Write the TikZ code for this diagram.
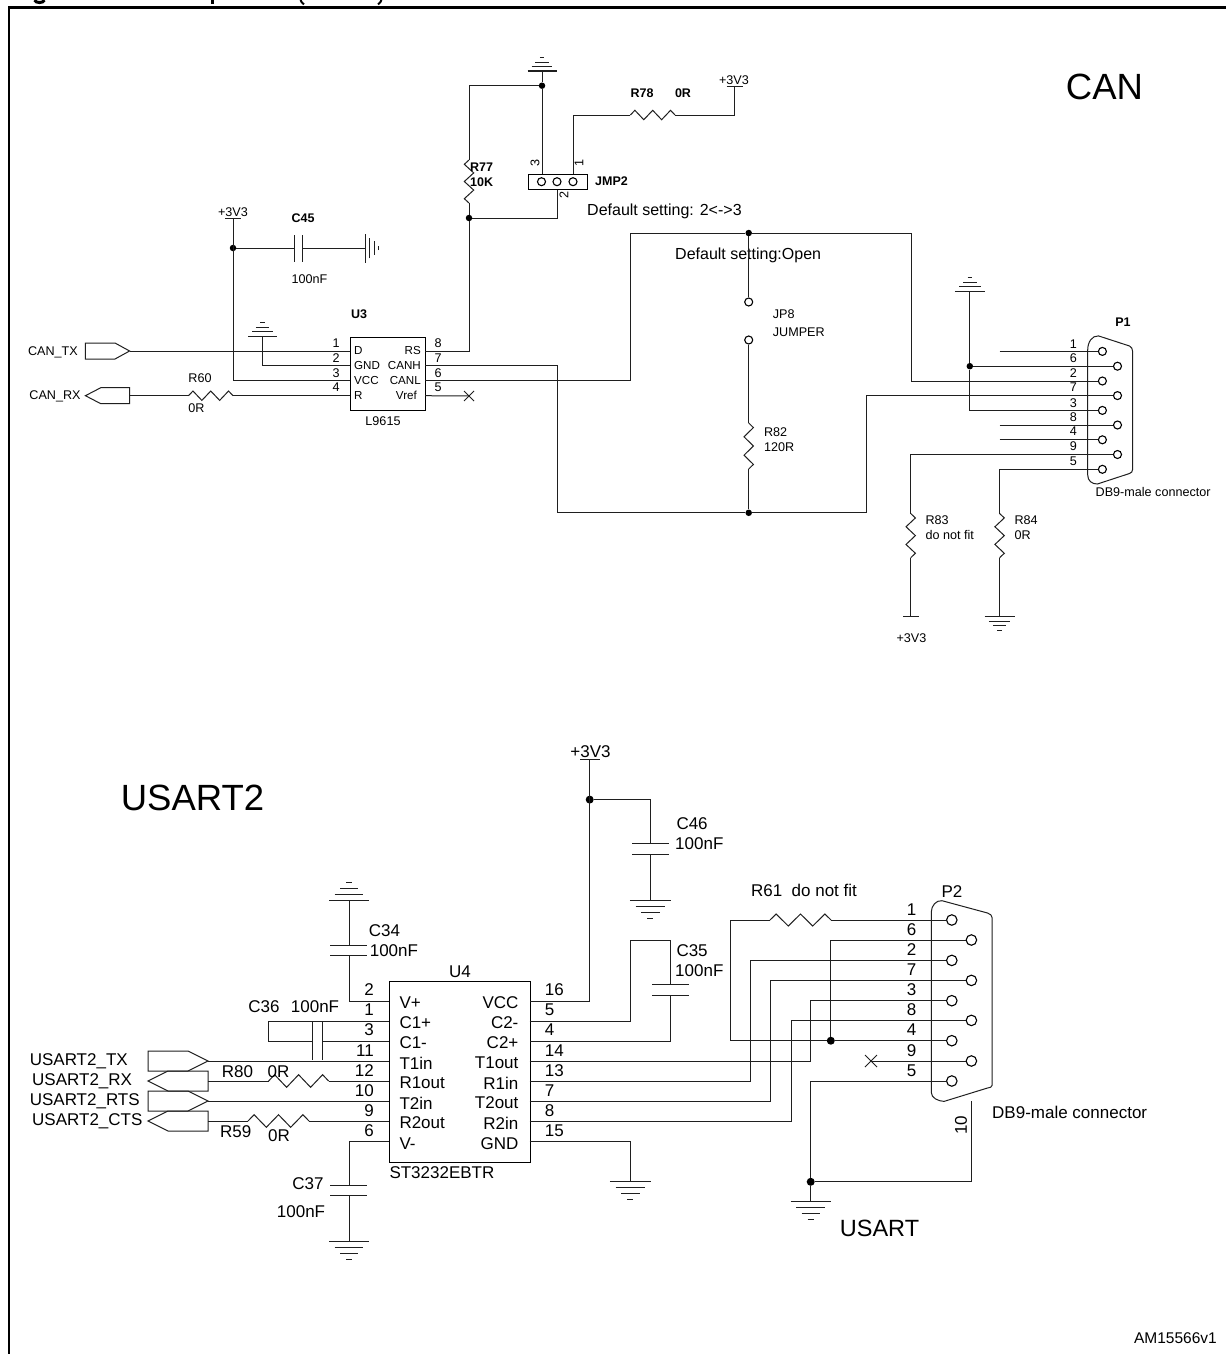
\documentclass[tikz,border=0pt]{standalone}
\usepackage{fontspec}
\setmainfont{Liberation Sans}
\usetikzlibrary{calc}
\newcommand{\fz}[1]{\fontsize{#1}{#1}\selectfont}
\newcommand{\resz}[4]{\draw[wire] (#1) -- ($(#1)!.1!(#2)!#3!#4:(#2)$) -- ($(#1)!.3!(#2)!-#3!#4:(#2)$) -- ($(#1)!.5!(#2)!#3!#4:(#2)$) -- ($(#1)!.7!(#2)!-#3!#4:(#2)$) -- ($(#1)!.9!(#2)!#3!#4:(#2)$) -- (#2);}
\tikzset{
 wire/.style={line width=1pt,draw=black!88},
 frameline/.style={line width=2.8pt,draw=black},
 lbl/.style={inner sep=0pt,text=black},
 cansmall/.style={lbl,font=\fz{12.6}},
 canpin/.style={lbl,font=\fz{11.6}},
 canbold/.style={lbl,font=\fz{12.5}\bfseries},
 canmid/.style={lbl,font=\fz{16}},
 usart/.style={lbl,font=\fz{17}},
 big/.style={lbl,font=\fz{36.5}},
 icbox/.style={draw=black,line width=1.2pt,rectangle,anchor=north west,inner sep=0pt},
 dot/.style={circle,fill=black,inner sep=0pt,minimum size=#1},
 dot/.default=6.5pt,
 pinc/.style={circle,draw=black,line width=1.1pt,fill=white,inner sep=0pt,minimum size=#1},
 pinc/.default=8pt,
 flagline/.style={draw=black!88,line width=1pt},
 pics/gnd/.style n args={2}{code={
   \draw[wire] (-#1,0) -- (#1,0);
   \draw[wire] (-.72*#1,#2) -- (.72*#1,#2);
   \draw[wire] (-.45*#1,2*#2) -- (.45*#1,2*#2);
   \draw[wire] (-.15*#1,3*#2) -- (.15*#1,3*#2);
 }},
}
\begin{document}
\begin{tikzpicture}[x=1pt,y=-1pt]
\useasboundingbox (0,0) rectangle (1226,1354);
\fill[white] (0,0) rectangle (1226,1354);
% frame and clipped title remains
\draw[frameline] (9,1354) -- (9,7.8) -- (1226,7.8);
\draw[line width=3pt] (34.5,0) .. controls (36,3.4) and (43,3.4) .. (44.5,0);
\draw[line width=3pt] (212,0) -- (212,3.8);
\draw[line width=2pt] (300.5,0) .. controls (301,1.5) and (302,3) .. (304,4.4);
\draw[line width=2pt] (381.5,0) .. controls (381,1.5) and (380,3) .. (378,4.4);

% ---------------- CAN ----------------
\node[big] (tcan) at (1104.5,87) {CAN};
% U3
\node[icbox,minimum width=75pt,minimum height=73.3pt] (U3box) at (350,336.7) {};
\node[canbold] (tu3) at (359,314) {U3};
\node[cansmall] (tl9615) at (383,421) {L9615};
\coordinate (u3l1) at (350,351); \coordinate (u3l2) at (350,365.7);
\coordinate (u3l3) at (350,380.5); \coordinate (u3l4) at (350,395.7);
\coordinate (u3r8) at (425,351); \coordinate (u3r7) at (425,365.7);
\coordinate (u3r6) at (425,380.5); \coordinate (u3r5) at (425,395.7);
\foreach \t/\yy/\nm in {D/351/a,GND/366/b,VCC/381/c,R/395.5/d}
  \node[canpin,anchor=west] (u3t\nm) at (354,\yy) {\t};
\node[canpin,anchor=east] (u3tRS) at (421,351) {RS};
\node[canpin,anchor=east] (u3tH) at (421,366) {CANH};
\node[canpin,anchor=east] (u3tL) at (421,381) {CANL};
\node[canpin,anchor=east] (u3tV) at (417,395.5) {Vref};
\foreach \t/\yy in {1/343,2/358,3/373,4/387.5}
  \node[cansmall] (u3nl\t) at (336,\yy) {\t};
\foreach \t/\yy in {8/343,7/358,6/373,5/387.5}
  \node[cansmall] (u3nr\t) at (438,\yy) {\t};
% flags
\coordinate (txtip) at (129.6,351);
\draw[flagline] (txtip) -- ++(-14.6,-8) -- ++(-29.6,0) -- ++(0,16) -- ++(29.6,0) -- cycle;
\coordinate (rxbase) at (129.6,395.7);
\draw[flagline] (rxbase) ++(-44.2,0) -- ++(15.4,-8) -- ++(28.8,0) -- ++(0,16) -- ++(-28.8,0) -- cycle;
\node[cansmall] (tcantx) at (53,352) {CAN\_TX};
\node[cansmall] (tcanrx) at (55,396) {CAN\_RX};
\draw[wire] (txtip) -- (u3l1);
\coordinate (r60a) at (188.5,395.7); \coordinate (r60b) at (233,395.7);
\draw[wire] (rxbase) -- (r60a);
\resz{r60a}{r60b}{4.7pt}{90}
\draw[wire] (r60b) -- (u3l4);
\node[cansmall] (tr60) at (200,377.7) {R60};
\node[cansmall] (t0r60) at (196.5,408) {0R};
% +3V3 / C45
\coordinate (v3a) at (233,218);
\draw[wire] (225,218) -- (241,218);
\node[cansmall,anchor=south] (tv3a2) at (233,217) {+3V3};
\node[dot] (j45) at (233,248) {};
\draw[wire] (v3a) |- (u3l3);
\coordinate (c45a) at (294.5,248); \coordinate (c45b) at (302.5,248); \coordinate (g45) at (365.6,248);
\draw[wire] (j45) -- (c45a); \draw[wire] (c45b) -- (g45);
\draw[wire] (294.5,235) -- (294.5,262); \draw[wire] (302.5,235) -- (302.5,262);
\pic[rotate=90] (g45p) at (g45) {gnd={14.5}{4.2}};
\node[canbold] (tc45) at (303,218) {C45};
\node[cansmall] (t100a) at (309.5,279) {100nF};
% GND to U3
\coordinate (g3) at (262.5,336);
\pic[yscale=-1] (g3p) at (g3) {gnd={14.5}{4.4}};
\draw[wire] (g3) |- (u3l2);
% Vref x
\coordinate (xv) at (469,396);
\draw[wire] (u3r5) -- (xv);
\draw[wire] (464,391) -- (474,401); \draw[wire] (464,401) -- (474,391);
% top GND, R77, JMP2
\coordinate (gtop) at (542,71);
\pic[yscale=-1] (gtopp) at (gtop) {gnd={14.5}{4.4}};
\node[dot] (jtop) at (542,85.7) {};
\coordinate (r77a) at (469,160); \coordinate (r77b) at (469,203);
\node[dot] (j77) at (469,218) {};
\draw[wire] (jtop) -| (r77a);
\resz{r77a}{r77b}{-4.7pt}{90}
\draw[wire] (r77b) -- (j77);
\draw[wire] (j77) |- (u3r8);
\draw[wire] (gtop) -- (jtop);
\node[icbox,minimum width=59pt,minimum height=15pt] (jmp) at (528,174) {};
\node[pinc=8pt] (jc3) at (541.5,181.7) {};
\node[pinc=8pt] (jc2) at (557,181.7) {};
\node[pinc=8pt] (jc1) at (573,181.7) {};
\draw[wire] (jtop) -- (jtop |- jmp.north);
\draw[wire] (j77) -| (jc2 |- jmp.south);
\coordinate (r78a) at (630.4,115); \coordinate (r78b) at (675,115); \coordinate (v78) at (734.4,86.3);
\draw[wire] (jc1 |- jmp.north) |- (r78a);
\resz{r78a}{r78b}{4.7pt}{90}
\draw[wire] (r78b) -| (v78);
\draw[wire] (726.5,86.3) -- (742.5,86.3);
\node[cansmall,anchor=south] (tv78) at (734,84.5) {+3V3};
\node[canbold] (tr78) at (642,93.4) {R78};
\node[canbold] (t0r78) at (683,93.4) {0R};
\node[canbold,anchor=west] (tr77) at (470,167) {R77};
\node[canbold,anchor=west] (t10k) at (470,182) {10K};
\node[canbold,anchor=west] (tjmp) at (595,181.5) {JMP2};
\node[cansmall,rotate=90] (tj3) at (535,163) {3};
\node[cansmall,rotate=90] (tj1) at (579,163) {1};
\node[cansmall,rotate=90] (tj2) at (564,195) {2};
\node[canmid,anchor=west] (tdef1) at (587,211) {Default setting: 2<->3};
\node[canmid,anchor=west] (tdef2) at (675,255.5) {Default setting:Open};
% P1
\foreach \n/\yy/\xx in {1/351.4/1102.4,6/366.2/1117.5,2/381/1102.4,7/395.6/1117.5,3/410.4/1102.4,8/425/1117.5,4/439.8/1102.4,9/454.5/1117.5,5/469.3/1102.4}
  \node[pinc=8pt] (pa\n) at (\xx,\yy) {};
\foreach \n/\yy in {1/343.9,6/358.6,2/373.3,7/387.4,3/402.8,8/417.5,4/431.6,9/446.1,5/461.7}
  \node[cansmall] (ta\n) at (1073.4,\yy) {\n};
\draw[wire] (1087.7,350) .. controls (1087.7,342) and (1092,335.5) .. (1098.5,335.9) -- (1129.5,346) .. controls (1131.5,347) and (1132.6,349) .. (1132.6,351.4) -- (1132.6,469.3) .. controls (1132.6,471.5) and (1131.5,472.8) .. (1129.5,473.5) -- (1097.4,484) .. controls (1092,484) and (1087.7,481) .. (1087.7,475) -- cycle;
\node[canbold] (tp1) at (1123,322.4) {P1};
\node[cansmall,anchor=west] (tdb1) at (1095.5,492.4) {DB9-male connector};
% CANH / CANL
\node[dot] (jb) at (748.7,512.8) {};
\node[dot] (jt) at (748.7,233) {};
\coordinate (cH) at (557,512.8); \coordinate (cH2) at (866.6,512.8);
\coordinate (cL) at (630.8,233); \coordinate (cL2) at (911,233);
\draw[wire] (u3r7) -| (cH) -- (jb) -- (cH2) |- (pa7.west);
\draw[wire] (u3r6) -| (cL) -- (jt) -- (cL2) |- (pa2.west);
% JP8 R82
\node[pinc=8pt] (jp8a) at (748.7,302) {};
\node[pinc=8pt] (jp8b) at (748.7,340) {};
\coordinate (r82a) at (748.7,423); \coordinate (r82b) at (748.7,469);
\draw[wire] (jt) -- (jp8a);
\draw[wire] (jp8b) -- (r82a);
\resz{r82a}{r82b}{4.7pt}{90}
\draw[wire] (r82b) -- (jb);
\node[cansmall,anchor=west] (tjp8) at (772.7,314) {JP8};
\node[cansmall,anchor=west] (tjumper) at (772.7,332.5) {JUMPER};
\node[cansmall,anchor=west] (tr82) at (763.8,432) {R82};
\node[cansmall,anchor=west] (t120) at (763.8,447) {120R};
% P1 wiring
\coordinate (g1) at (969.8,291);
\pic[yscale=-1] (g1p) at (g1) {gnd={15}{4.4}};
\node[dot] (j1) at (969.8,366.2) {};
\draw[wire] (g1) -- (j1);
\draw[wire] (j1) |- (pa3.west);
\draw[wire] (j1) -- (pa6.west);
\coordinate (s1) at (999.6,351.4); \coordinate (s8) at (999.6,425); \coordinate (s4) at (999.6,439.8);
\draw[wire] (s1) -- (pa1.west); \draw[wire] (s8) -- (pa8.west); \draw[wire] (s4) -- (pa4.west);
% R83 R84
\coordinate (r83a) at (910.7,513.5); \coordinate (r83b) at (910.7,557.7); \coordinate (v83) at (910.7,616.6);
\draw[wire] (pa9.west) -| (r83a);
\resz{r83a}{r83b}{4.7pt}{90}
\draw[wire] (r83b) -- (v83);
\draw[wire] (903,616.6) -- (919,616.6);
\node[cansmall] (tv83) at (911.5,638.5) {+3V3};
\node[cansmall,anchor=west] (tr83) at (925.4,520.6) {R83};
\node[cansmall,anchor=west] (tdnf) at (925.4,535.4) {do not fit};
\coordinate (r84a) at (999.6,513.5); \coordinate (r84b) at (999.6,557.7); \coordinate (g84) at (999.6,616.6);
\draw[wire] (pa5.west) -| (r84a);
\resz{r84a}{r84b}{4.7pt}{90}
\draw[wire] (r84b) -- (g84);
\pic (g84p) at (g84) {gnd={15}{4.5}};
\node[cansmall,anchor=west] (tr84) at (1014.3,520.6) {R84};
\node[cansmall,anchor=west] (t0r84) at (1014.3,535.4) {0R};

% ---------------- USART ----------------
\node[big] (tusart2) at (192.5,798) {USART2};
\node[lbl,font=\fz{23.5}] (tusart) at (879.5,1228) {USART};
\node[lbl,font=\fz{15.5},anchor=east] (tam) at (1217,1338) {AM15566v1};
\node[icbox,minimum width=141pt,minimum height=181pt] (U4) at (388.6,980.7) {};
\node[usart] (tu4) at (460,971.7) {U4};
\node[usart,anchor=west] (tst) at (389.3,1172.7) {ST3232EBTR};
\foreach \n/\yy/\tl/\tr in {a/1001/V+/VCC,b/1021/C1+/C2-,c/1041/C1-/C2+,d/1061/T1in/T1out,e/1081/R1out/R1in,f/1101/T2in/T2out,g/1121/R2out/R2in,h/1141.7/V-/GND}{
  \coordinate (ul\n) at (388.6,\yy);
  \coordinate (ur\n) at (529.6,\yy);
  \node[usart,anchor=west] (utl\n) at (399.3,\yy+2) {\tl};
  \node[usart,anchor=east] (utr\n) at (518.6,\yy+2) {\tr};
}
\foreach \t/\yy in {2/990,1/1010,3/1030,11/1051,12/1071,10/1091,9/1111,6/1131}
  \node[usart,anchor=east] (unl\t) at (374,\yy) {\t};
\foreach \t/\yy in {16/990,5/1010,4/1030,14/1051,13/1071,7/1091,8/1111,15/1131}
  \node[usart,anchor=west] (unr\t) at (544.6,\yy) {\t};
% flags
\coordinate (ftx) at (208,1061); \coordinate (frx) at (208,1081); \coordinate (frts) at (208,1101); \coordinate (fcts) at (208,1121);
\foreach \c in {ftx,frts}
  \draw[flagline] (\c) -- ++(-20,-10) -- ++(-40,0) -- ++(0,20) -- ++(40,0) -- cycle;
\foreach \c in {frx,fcts}
  \draw[flagline] (\c) ++(-60,0) -- ++(20,-10) -- ++(40,0) -- ++(0,20) -- ++(-40,0) -- cycle;
\node[usart,anchor=west] (ttx) at (29.6,1061) {USART2\_TX};
\node[usart,anchor=west] (trx) at (32,1081) {USART2\_RX};
\node[usart,anchor=west] (trts) at (29.6,1101.5) {USART2\_RTS};
\node[usart,anchor=west] (tcts) at (32,1121) {USART2\_CTS};
\draw[wire] (ftx) -- (uld);
\draw[wire] (frts) -- (ulf);
\coordinate (r80a) at (268.6,1081); \coordinate (r80b) at (328.6,1081);
\draw[wire] (frx) -- (r80a);
\resz{r80a}{r80b}{6.3pt}{90}
\draw[wire] (r80b) -- (ule);
\coordinate (r59a) at (248,1121); \coordinate (r59b) at (309,1121);
\draw[wire] (fcts) -- (r59a);
\resz{r59a}{r59b}{6.3pt}{90}
\draw[wire] (r59b) -- (ulg);
\node[usart] (tr80) at (237.5,1071.5) {R80};
\node[usart] (t0r80) at (278.6,1071.5) {0R};
\node[usart] (tr59) at (235.7,1131.7) {R59};
\node[usart] (t0r59) at (279,1136) {0R};
% C34
\coordinate (g34) at (349,900); \coordinate (c34a) at (349,945); \coordinate (c34b) at (349,955);
\pic[yscale=-1] (g34p) at (g34) {gnd={20}{6}};
\draw[wire] (g34) -- (c34a);
\draw[wire] (330,945) -- (367,945); \draw[wire] (330,955) -- (367,955);
\draw[wire] (c34b) |- (ula);
\node[usart,anchor=west] (tc34) at (368.6,931) {C34};
\node[usart,anchor=west] (t34v) at (369.6,950.7) {100nF};
% C36
\coordinate (c36l) at (268.6,1021); \coordinate (c36k) at (268.6,1041);
\draw[wire] (ulb) -- (c36l) -- (c36k) -- (312.5,1041);
\draw[wire] (322.5,1041) -- (ulc);
\draw[wire] (312.5,1022) -- (312.5,1060); \draw[wire] (322.5,1022) -- (322.5,1060);
\node[usart] (tc36) at (264,1006.7) {C36};
\node[usart] (t36v) at (315,1006.7) {100nF};
% C37
\coordinate (c37a) at (349,1185); \coordinate (c37b) at (349,1195.3); \coordinate (g37) at (349,1241.7);
\draw[wire] (ulh) -| (c37a);
\draw[wire] (330,1185) -- (367,1185); \draw[wire] (330,1195.3) -- (367,1195.3);
\draw[wire] (c37b) -- (g37);
\pic (g37p) at (g37) {gnd={20}{5.8}};
\node[usart] (tc37) at (308,1184) {C37};
\node[usart] (t37v) at (301,1211.7) {100nF};
% +3V3, C46
\coordinate (v4) at (589.7,759.6);
\draw[wire] (580,759.6) -- (599.5,759.6);
\node[lbl,font=\fz{17},anchor=south] (tv4) at (590.5,757.5) {+3V3};
\node[dot=8pt] (j46) at (589.7,799.6) {};
\draw[wire] (v4) |- (ura);
\coordinate (c46a) at (650.4,843.6); \coordinate (c46b) at (650.4,854); \coordinate (g46) at (650.4,900.4);
\draw[wire] (j46) -| (c46a);
\draw[wire] (632,843.6) -- (669,843.6); \draw[wire] (632,854) -- (669,854);
\draw[wire] (c46b) -- (g46);
\pic (g46p) at (g46) {gnd={20.5}{5.9}};
\node[usart,anchor=west] (tc46) at (676.3,824) {C46};
\node[usart,anchor=west] (t46v) at (675,844) {100nF};
% C35
\coordinate (c35t) at (630.4,940.7); \coordinate (c35a) at (670.5,984.6); \coordinate (c35b) at (670.5,995.4);
\draw[wire] (urb) -| (c35t) -| (c35a);
\draw[wire] (652,984.6) -- (688.5,984.6); \draw[wire] (652,995.4) -- (688.5,995.4);
\draw[wire] (c35b) |- (urc);
\node[usart,anchor=west] (tc35) at (676.3,950.7) {C35};
\node[usart,anchor=west] (t35v) at (675,971) {100nF};
% GND of U4
\coordinate (g4) at (630.4,1181.8);
\draw[wire] (urh) -| (g4);
\pic (g4p) at (g4) {gnd={20.5}{5.9}};
% P2
\foreach \n/\yy/\xx in {1/920/951.8,6/940/971.4,2/960.4/951.8,7/980.4/971.4,3/1000.7/951.8,8/1020.4/971.4,4/1040.7/951.8,9/1061/971.4,5/1081/951.8}
  \node[pinc=10.5pt] (pb\n) at (\xx,\yy) {};
\foreach \n/\yy in {1/910,6/930,2/950,7/969.8,3/989.6,8/1009.8,4/1030,9/1050.7,5/1071}
  \node[usart] (tb\n) at (911.6,\yy) {\n};
\draw[wire] (931.3,912) .. controls (931.3,906) and (936,900) .. (942,900.7) -- (987.5,913) .. controls (990.5,914) and (992,915.5) .. (992,917.5) -- (992,1085.4) .. controls (992,1087) and (990,1087.8) .. (987.5,1088) -- (944,1101.4) .. controls (938,1101) and (931.3,1098) .. (931.3,1092.5) -- cycle;
\node[usart] (tp2) at (952,891.8) {P2};
\node[usart,anchor=west] (tdb2) at (992,1112) {DB9-male connector};
\node[usart,rotate=90] (t10) at (961,1125) {10};
% routed nets
\coordinate (b3) at (810.7,1000.7); \coordinate (b2) at (750.4,960.4); \coordinate (b7) at (770.5,980.4); \coordinate (b8) at (791,1020.4);
\draw[wire] (urd) -| (b3) -- (pb3.west);
\draw[wire] (ure) -| (b2) -- (pb2.west);
\draw[wire] (urf) -| (b7) -- (pb7.west);
\draw[wire] (urg) -| (b8) -- (pb8.west);
\coordinate (r61a) at (770,920); \coordinate (r61b) at (831,920); \coordinate (r61l) at (730.8,920);
\node[dot=8pt] (j2) at (830.8,1040.7) {};
\draw[wire] (pb1.west) -- (r61b);
\resz{r61a}{r61b}{6pt}{90}
\draw[wire] (r61a) -- (r61l) |- (j2);
\draw[wire] (j2) -- (pb4.west);
\draw[wire] (j2) |- (pb6.west);
\node[lbl,font=\fz{17}] (tr61) at (804,890) {R61\ \ do not fit};
\coordinate (xv2) at (871,1061);
\draw[wire] (pb9.west) -- (xv2);
\draw[wire] (865,1055) -- (877,1067); \draw[wire] (865,1067) -- (877,1055);
\node[dot=8pt] (j3) at (810.7,1181.8) {};
\coordinate (gu) at (810.7,1201.4); \coordinate (p10) at (971.9,1101.4);
\draw[wire] (pb5.west) -| (j3);
\draw[wire] (j3) -- (gu);
\draw[wire] (j3) -| (p10);
\pic (gup) at (gu) {gnd={20}{6}};
\end{tikzpicture}
\end{document}
